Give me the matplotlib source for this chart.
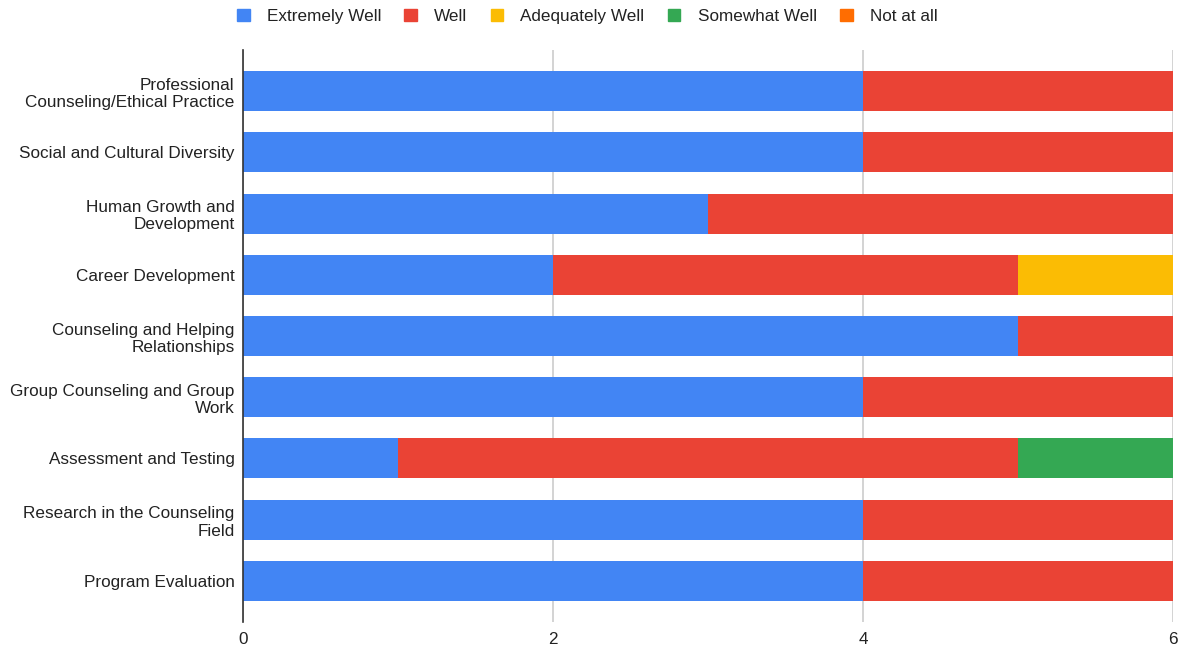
import matplotlib.pyplot as plt
from matplotlib.patches import Patch
import numpy as np

plt.rcParams['font.family'] = ['Liberation Sans', 'DejaVu Sans']

areas = [
    "Professional\nCounseling/Ethical Practice",
    "Social and Cultural Diversity",
    "Human Growth and\nDevelopment",
    "Career Development",
    "Counseling and Helping\nRelationships",
    "Group Counseling and Group\nWork",
    "Assessment and Testing",
    "Research in the Counseling\nField",
    "Program Evaluation",
]
series = ["Extremely Well", "Well", "Adequately Well", "Somewhat Well", "Not at all"]
extremely_well = [4, 4, 3, 2, 5, 4, 1, 4, 4]
well = [2, 2, 3, 3, 1, 2, 4, 2, 2]
adequately_well = [0, 0, 0, 1, 0, 0, 0, 0, 0]
somewhat_well = [0, 0, 0, 0, 0, 0, 1, 0, 0]
not_at_all = [0, 0, 0, 0, 0, 0, 0, 0, 0]
colors = ["#4285F4", "#EA4335", "#FBBC04", "#34A853", "#FF6D01"]

fig = plt.figure(figsize=(11.79, 6.5), dpi=100)
ax = fig.add_axes([0.2061, 0.0431, 0.7888, 0.8799])

y = np.arange(len(areas))
left = np.zeros(len(areas))
for vals, col in zip([extremely_well, well, adequately_well, somewhat_well, not_at_all], colors):
    vals = np.array(vals, dtype=float)
    ax.barh(y, vals, left=left, height=0.655, color=col, zorder=3)
    left += vals

ax.set_xlim(0, 6)
ax.set_ylim(8.672, -0.672)
ax.set_xticks([0, 2, 4, 6])
ax.set_yticks(y)
ax.set_yticklabels(areas, fontsize=12.3, color="#222222", linespacing=1.2)
ax.tick_params(axis="x", labelsize=12.3, labelcolor="#222222", length=0, pad=7)
ax.tick_params(axis="y", length=0, pad=6)
ax.grid(axis="x", color="#cccccc", linewidth=1.2, zorder=0)
for s in ["top", "right", "bottom"]:
    ax.spines[s].set_visible(False)
ax.spines["left"].set_color("#333333")
ax.spines["left"].set_linewidth(1.2)
ax.spines["left"].set_zorder(4)

handles = [Patch(facecolor=c, edgecolor=c, label=s) for s, c in zip(series, colors)]
fig.legend(handles=handles, loc="center", bbox_to_anchor=(0.498, 0.975), ncol=5,
           frameon=False, fontsize=12.3, handlelength=0.75, handleheight=0.75,
           handletextpad=1.0, columnspacing=1.35, labelcolor="#222222")

fig.savefig("out.png", dpi=100)
